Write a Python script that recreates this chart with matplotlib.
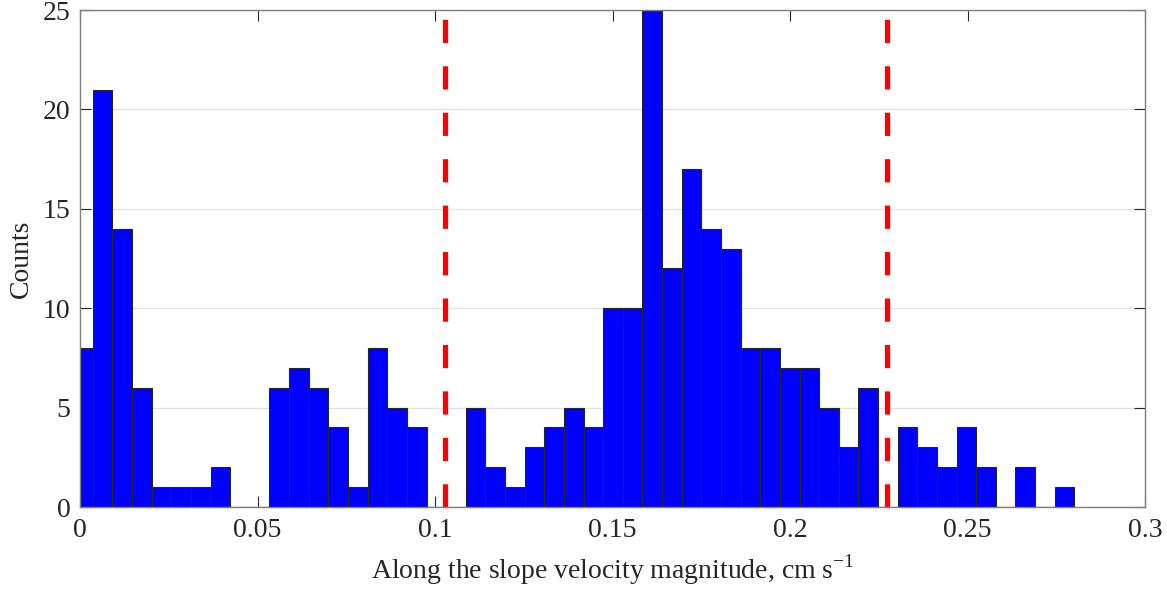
import numpy as np
import matplotlib
matplotlib.use("Agg")
import matplotlib.pyplot as plt

# histogram counts, 51 bins of equal width (first bin partly below 0)
counts = [8, 21, 14, 6, 1, 1, 1, 2, 0, 0,
          6, 7, 6, 4, 1, 8, 5, 4, 0, 0,
          5, 2, 1, 3, 4, 5, 4, 10, 10, 25,
          12, 17, 14, 13, 8, 8, 7, 7, 5, 3,
          6, 0, 4, 3, 2, 4, 2, 0, 2, 0, 1]
bin_start = -0.00195
bin_width = 0.00553
thresholds = [0.1028, 0.2274]

xticks = [0, 0.05, 0.1, 0.15, 0.2, 0.25, 0.3]
xticklabels = ["0", "0.05", "0.1", "0.15", "0.2", "0.25", "0.3"]
yticks = [0, 5, 10, 15, 20, 25]

edges = bin_start + bin_width * np.arange(len(counts) + 1)

plt.rcParams['font.family'] = ['Liberation Serif', 'DejaVu Serif']
fig = plt.figure(figsize=(11.67, 5.96), dpi=100)
ax = fig.add_axes([0.0686, 0.1493, 0.9126, 0.8339])

ax.bar(edges[:-1], counts, width=bin_width, align='edge',
       color='#0000ff', edgecolor='#262626', linewidth=0.8, zorder=2)
for t in thresholds:
    ax.plot([t, t], [0, 25], color='red', lw=3.8, dashes=(4.4, 4.4), zorder=3)

ax.set_xlim(0, 0.3)
ax.set_ylim(0, 25)
ax.set_xticks(xticks)
ax.set_xticklabels(xticklabels)
ax.set_yticks(yticks)
ax.yaxis.grid(True, color='#e3e3e3', lw=1.0, zorder=0)
ax.set_axisbelow(True)

for s in ax.spines.values():
    s.set_color('#7f7f7f')
    s.set_linewidth(1.0)
    s.set_zorder(4)
ax.tick_params(direction='in', length=8, width=0.8, color='#262626',
               top=True, right=True, labelsize=20, labelcolor='#262626')
ax.tick_params(axis='x', pad=8)
ax.tick_params(axis='y', pad=7)

ax.set_xlabel("Along the slope velocity magnitude, cm s$^{\\mathregular{-1}}$",
              fontsize=20, color='#262626', labelpad=7)
ax.set_ylabel("Counts", fontsize=20, color='#262626', labelpad=6)

fig.savefig("out.png", dpi=100)
